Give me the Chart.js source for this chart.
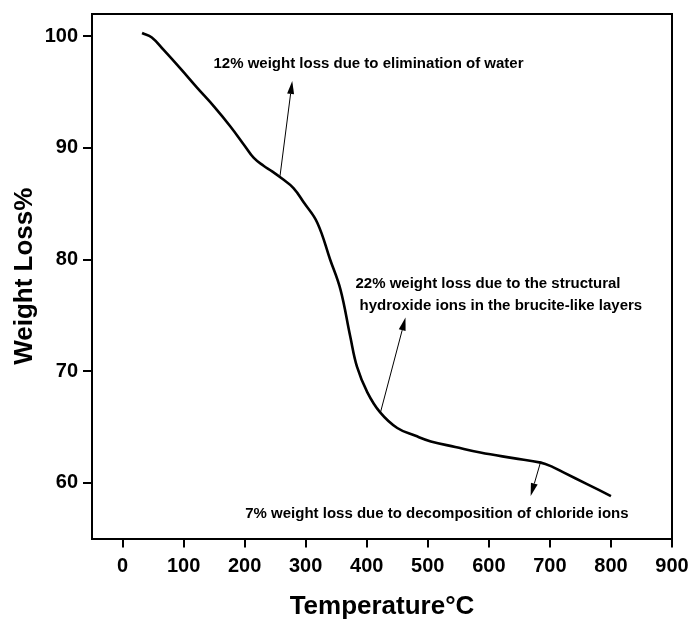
<!DOCTYPE html>
<html>
<head>
<meta charset="utf-8">
<script src="https://cdn.jsdelivr.net/npm/chart.js@4.4.1/dist/chart.umd.min.js"></script>
<style>
  body { margin: 0; background: #fff; }
  #wrap { width: 691px; height: 620px; position: relative; }
</style>
</head>
<body>
<div id="wrap"><canvas id="myChart"></canvas></div>
<script>
// TGA curve
const temps = [32, 48, 67, 95, 122, 150, 177, 200, 215, 231, 245, 260, 280, 297, 319, 340, 357, 373, 384, 401, 422, 450, 480, 505, 545, 586, 640, 685, 705, 723, 760, 800];
const weights = [100.3, 99.9, 98.8, 97.1, 95.4, 93.7, 91.9, 90.2, 89.1, 88.4, 87.9, 87.3, 86.4, 85.1, 83.3, 80.0, 77.3, 73.1, 70.4, 68.1, 66.3, 64.9, 64.2, 63.7, 63.2, 62.7, 62.2, 61.8, 61.4, 60.9, 59.9, 58.8];

const xTicks = [0, 100, 200, 300, 400, 500, 600, 700, 800, 900];
const yTicks = [60, 70, 80, 90, 100];

const noteTexts = [
    ['12% weight loss due to elimination of water'],
    ['22% weight loss due to the structural', ' hydroxide ions in the brucite-like layers'],
    ['7% weight loss due to decomposition of chloride ions']
];
// where each note starts (data coords) and where its arrow goes
const notePos = [[149, 97.5], [381.5, 77.8], [201, 57.25]];
const arrowFrom = [[258, 87.5], [422.5, 66.3], [685, 61.9]];
const arrowTo = [[278, 96.0], [463.5, 74.8], [668.5, 58.8]];

const FONT = "'Liberation Sans', Arial, sans-serif";

const points = temps.map((t, i) => ({ x: t, y: weights[i] }));

// frame + notes + arrows
const extras = {
    id: 'extras',
    afterDraw(chart) {
        const { ctx, chartArea: a, scales: { x, y } } = chart;
        ctx.save();
        ctx.strokeStyle = '#000';
        ctx.lineWidth = 2;
        ctx.beginPath();
        ctx.moveTo(a.left, a.top);
        ctx.lineTo(a.right, a.top);
        ctx.lineTo(a.right, a.bottom);
        ctx.stroke();

        ctx.fillStyle = '#000';
        ctx.font = 'bold 15px ' + FONT;
        ctx.textBaseline = 'middle';
        ctx.textAlign = 'left';
        noteTexts.forEach((lines, i) => {
            const px = x.getPixelForValue(notePos[i][0]);
            const py = y.getPixelForValue(notePos[i][1]);
            lines.forEach((txt, j) => ctx.fillText(txt, px, py + j * 21.7));
        });

        ctx.lineWidth = 1;
        arrowFrom.forEach((f, i) => {
            const x1 = x.getPixelForValue(f[0]), y1 = y.getPixelForValue(f[1]);
            const x2 = x.getPixelForValue(arrowTo[i][0]), y2 = y.getPixelForValue(arrowTo[i][1]);
            const ang = Math.atan2(y2 - y1, x2 - x1);
            const len = 13, w = 3.5;
            const bx = x2 - len * Math.cos(ang), by = y2 - len * Math.sin(ang);
            ctx.beginPath();
            ctx.moveTo(x1, y1);
            ctx.lineTo(bx, by);
            ctx.stroke();
            ctx.beginPath();
            ctx.moveTo(x2, y2);
            ctx.lineTo(bx + w * Math.sin(ang), by - w * Math.cos(ang));
            ctx.lineTo(bx - w * Math.sin(ang), by + w * Math.cos(ang));
            ctx.closePath();
            ctx.fill();
        });
        ctx.restore();
    }
};

const ctx = document.getElementById('myChart');
new Chart(ctx, {
    type: 'line',
    data: {
        datasets: [{
            data: points,
            borderColor: '#000',
            borderWidth: 2.6,
            pointRadius: 0,
            tension: 0.4,
            fill: false
        }]
    },
    options: {
        responsive: true,
        maintainAspectRatio: false,
        animation: false,
        layout: { padding: { top: 14, right: 19, left: 0, bottom: 0 } },
        plugins: { legend: { display: false }, tooltip: { enabled: false } },
        scales: {
            x: {
                type: 'linear',
                min: -50,
                max: 900,
                afterBuildTicks: s => { s.ticks = xTicks.map(v => ({ value: v })); },
                afterFit: s => { s.height = 81.5; s.paddingLeft = 0; s.paddingRight = 0; },
                border: { color: '#000', width: 2 },
                grid: { drawOnChartArea: false, drawTicks: true, tickLength: 9, color: '#000', lineWidth: 2 },
                ticks: { color: '#000', padding: 7, maxRotation: 0, font: { family: FONT, size: 20, weight: 'bold' } },
                title: {
                    display: true,
                    text: 'Temperature°C',
                    color: '#000',
                    padding: { top: 0, bottom: 0 },
                    font: { family: FONT, size: 26, weight: 'bold', lineHeight: 1 }
                }
            },
            y: {
                type: 'linear',
                min: 55,
                max: 102,
                afterBuildTicks: s => { s.ticks = yTicks.map(v => ({ value: v })); },
                afterFit: s => { s.width = 92; s.paddingTop = 0; s.paddingBottom = 0; },
                border: { color: '#000', width: 2 },
                grid: { drawOnChartArea: false, drawTicks: true, tickLength: 9, color: '#000', lineWidth: 2 },
                ticks: { color: '#000', padding: 5, font: { family: FONT, size: 20, weight: 'bold' } },
                title: {
                    display: true,
                    text: 'Weight Loss%',
                    color: '#000',
                    padding: { top: 12, bottom: 0 },
                    font: { family: FONT, size: 26, weight: 'bold', lineHeight: 1 }
                }
            }
        }
    },
    plugins: [extras]
});
</script>
</body>
</html>
